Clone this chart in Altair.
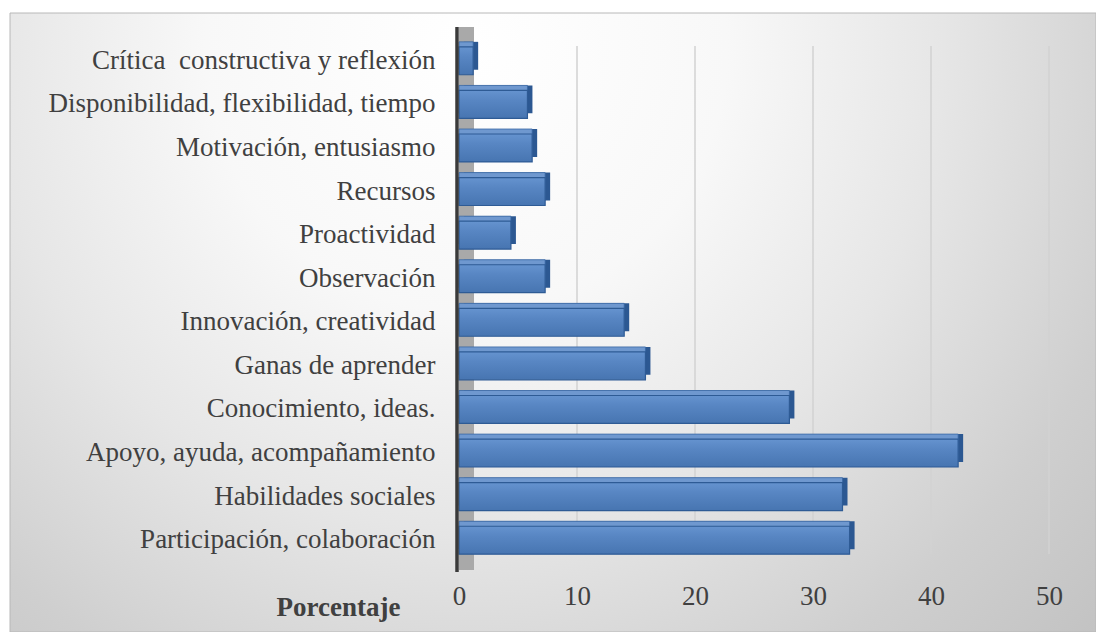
import altair as alt
import pandas as pd

categories = [
    "Crítica\u00a0 constructiva y reflexión",
    "Disponibilidad, flexibilidad, tiempo",
    "Motivación, entusiasmo",
    "Recursos",
    "Proactividad",
    "Observación",
    "Innovación, creatividad",
    "Ganas de aprender",
    "Conocimiento, ideas.",
    "Apoyo, ayuda, acompañamiento",
    "Habilidades sociales",
    "Participación, colaboración",
]
values = [1.2, 5.8, 6.2, 7.3, 4.4, 7.3, 14.0, 15.8, 28.0, 42.3, 32.5, 33.1]
grid_ticks = [10, 20, 30, 40, 50]
axis_ticks = [0, 10, 20, 30, 40, 50]
axis_title = "Porcentaje"

W, H = 590, 523
FONT = "Liberation Serif"
TXT = "#404040"
FS = 27

df = pd.DataFrame({"cat": categories, "v": values})
df_grid = pd.DataFrame({"v": grid_ticks})
one = pd.DataFrame({"a": [0]})

X = alt.X(
    "v:Q",
    scale=alt.Scale(domain=[0, 50], nice=False, zero=True),
    axis=alt.Axis(
        values=axis_ticks, grid=False, domain=False, ticks=False, zindex=2,
        labelFont=FONT, labelFontSize=FS, labelColor=TXT, labelPadding=21,
        labelFlush=False, labelOverlap=False,
        title=axis_title, titleFont=FONT, titleFontSize=FS, titleFontWeight="bold",
        titleColor=TXT, titleX=-121, titleY=53, titleAlign="center",
        titleBaseline="alphabetic",
    ),
)
Y = alt.Y(
    "cat:N", sort=categories,
    scale=alt.Scale(paddingInner=0.36, paddingOuter=0.18),
    axis=alt.Axis(
        title=None, domain=False, ticks=False, grid=False, zindex=2,
        labelFont=FONT, labelFontSize=FS, labelColor=TXT, labelPadding=24,
        labelLimit=700,
    ),
)

bg_grad = alt.Gradient(
    gradient="radial", x1=0.42, y1=0.25, r1=0, x2=0.42, y2=0.25, r2=0.8,
    stops=[
        alt.GradientStop(offset=0, color="#ffffff"),
        alt.GradientStop(offset=0.3, color="#f8f8f8"),
        alt.GradientStop(offset=0.55, color="#e6e6e6"),
        alt.GradientStop(offset=0.8, color="#cfcfcf"),
        alt.GradientStop(offset=1, color="#c2c2c2"),
    ],
)
bg = alt.Chart(one).mark_rect(fill=bg_grad, stroke="#b8b8b8", strokeWidth=1).encode(
    x=alt.value(-449), x2=alt.value(637), y=alt.value(-26), y2=alt.value(593)
)

wall = alt.Chart(one).mark_rect(color="#a9a9a9").encode(
    x=alt.value(0), x2=alt.value(15), y=alt.value(-12), y2=alt.value(H + 8)
)

grid = alt.Chart(df_grid).mark_rule(color="#d2d2d2", strokeWidth=1.5).encode(
    x=X, y=alt.value(7), y2=alt.value(H - 8)
)

base = alt.Chart(df).encode(x=X, y=Y)
side = base.mark_bar(color="#2c5892", xOffset=5, yOffset=-5)
top = base.mark_bar(color="#6f98cf", yOffset=-5, stroke="#3a68a5", strokeWidth=0.8)
front_grad = alt.Gradient(
    gradient="linear", x1=0, y1=0, x2=0, y2=1,
    stops=[
        alt.GradientStop(offset=0, color="#6593cf"),
        alt.GradientStop(offset=0.35, color="#5886c3"),
        alt.GradientStop(offset=1, color="#4775b1"),
    ],
)
front = base.mark_bar(fill=front_grad, stroke="#2e5b95", strokeWidth=1.2)

axis_line = alt.Chart(one).mark_rule(color="#3a3a3a", strokeWidth=3.5).encode(
    x=alt.value(-2), y=alt.value(-12), y2=alt.value(H + 10)
)

chart = alt.layer(bg, wall, grid, side, top, front, axis_line).properties(
    width=W, height=H,
    padding={"left": 459, "top": 39, "right": 47, "bottom": 70},
    autosize=alt.AutoSizeParams(type="none"),
).configure_view(stroke=None).configure(background="white")

chart.save("out.html", embed_options={"renderer": "svg", "actions": False})
